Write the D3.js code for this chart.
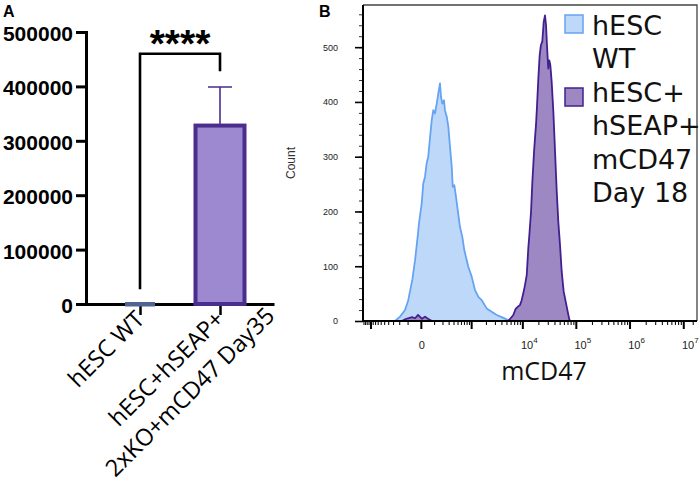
<!DOCTYPE html>
<html>
<head>
<meta charset="utf-8">
<title>hSEAP / mCD47</title>
<script src="https://cdn.jsdelivr.net/npm/d3@7"></script>
<style>
  body { margin: 0; background: #fff; }
</style>
</head>
<body>
<script>
// ---- panel A data ----
var groups = ["hESC WT", "hESC+hSEAP+\n2xKO+mCD47 Day35"];
var means = [0, 328000];
var upper = [0, 399000];
var yTicksA = [0, 100000, 200000, 300000, 400000, 500000];
var bracket = [27000, 460000, 428000];   // left leg end, bar, right leg end
var stars = "****";

// ---- panel B data (channel of 256, count) ----
var wtChannel = [24.5, 28.4, 32.2, 34.7, 36.0, 37.8, 39.9, 41.9, 42.9, 45.0, 46.2, 47.5, 48.8, 50.0,
  51.4, 52.7, 53.9, 55.2, 56.5, 57.7, 59.0, 59.8, 60.8, 62.1, 62.8, 64.2, 65.4, 66.7, 68.0, 68.8,
  70.0, 71.1, 72.6, 74.3, 76.1, 77.6, 79.5, 80.7, 83.3, 85.8, 88.4, 91.0, 94.8, 98.6, 102.5,
  106.3, 110.1, 114.0];
var wtCount = [0, 8, 20, 38, 54, 75, 111, 154, 178, 215, 251, 263, 288, 300,
  336, 367, 385, 379, 397, 415, 434, 409, 397, 403, 385, 373, 355, 318, 282, 245,
  248, 230, 203, 172, 154, 130, 111, 99, 81, 57, 44, 38, 23, 17, 11,
  7, 3, 0];
var tgChannel = [29.9, 32.2, 34.5, 37.6, 39.9, 42.2, 45.2, 47.5, 49.8, 52.9,
  111.4, 115.2, 117.0, 118.6, 120.3, 121.6, 122.9, 124.2, 125.5, 126.7, 127.5, 128.8, 129.8,
  131.1, 131.8, 132.6, 133.4, 134.4, 135.4, 136.4, 137.4, 138.5, 139.5, 140.3, 141.0, 142.0,
  142.8, 143.6, 144.6, 145.9, 147.2, 148.5, 149.7, 151.0, 152.3, 153.8, 155.4, 156.9, 158.2, 159.4];
var tgCount = [0, 3, 5, 7, 5, 11, 4, 8, 4, 0,
  0, 11, 22, 26, 29, 38, 51, 66, 84, 133, 157, 200, 254,
  309, 333, 358, 394, 443, 485, 504, 510, 546, 558, 540, 504, 461,
  476, 467, 437, 382, 309, 236, 181, 139, 90, 54, 35, 17, 2, 0];
var countTicks = [0, 100, 200, 300, 400, 500];
var majorTicksB = [-1000, 0, 1000, 1e4, 1e5, 1e6, 1e7];
var decades = [4, 5, 6, 7];
var legendLines = [["hESC", "WT"], ["hESC+", "hSEAP+", "mCD47", "Day 18"]];

var width = 700, height = 484;
var svg = d3.select("body").append("svg")
    .attr("width", width)
    .attr("height", height);

// ================= panel A =================
var yA = d3.scaleLinear().domain([0, 500000]).range([304, 32]);
var xA = d3.scalePoint().domain(groups).range([86, 274]).padding(0.675);
var barW = [26, 49];
var barFill = ["#5d6f9c", "#9d89cf"];
var barStroke = ["#4f6395", "#4b2d8e"];

var gA = svg.append("g");

var axA = gA.append("g")
    .attr("transform", "translate(86,0)")
    .call(d3.axisLeft(yA).tickValues(yTicksA).tickFormat(d3.format("d"))
        .tickSize(10).tickSizeOuter(0).tickPadding(3));
axA.select(".domain").attr("stroke-width", 3).attr("stroke-linecap", "square");
axA.selectAll(".tick line").attr("stroke-width", 3);
axA.selectAll("text")
    .attr("font-family", "Liberation Sans, Arial, sans-serif")
    .attr("font-weight", "bold")
    .attr("font-size", 21)
    .attr("dy", "0.4em")
    .attr("fill", "#000");

var axAx = gA.append("g")
    .attr("transform", "translate(0,304)")
    .call(d3.axisBottom(xA).tickSize(11).tickSizeOuter(0).tickFormat(""));
axAx.select(".domain").attr("stroke-width", 3);
axAx.selectAll(".tick line").attr("stroke-width", 2.5);

// bars
gA.selectAll(".bar")
    .data(groups)
    .enter()
    .append("rect")
    .attr("class", "bar")
    .attr("x", function(d, i) { return xA(d) - barW[i] / 2; })
    .attr("width", function(d, i) { return barW[i]; })
    .attr("y", function(d, i) { return yA(means[i]); })
    .attr("height", function(d, i) { return Math.max(yA(0) - yA(means[i]), 0.5); })
    .attr("fill", function(d, i) { return barFill[i]; })
    .attr("stroke", function(d, i) { return barStroke[i]; })
    .attr("stroke-width", 4);

// error bar (upper only)
var xb = xA(groups[1]);
gA.append("path")
    .attr("d", "M" + xb + "," + yA(means[1]) + "V" + yA(upper[1]) +
               "M" + (xb - 12) + "," + yA(upper[1]) + "H" + (xb + 12))
    .attr("fill", "none")
    .attr("stroke", "#4b2d8e")
    .attr("stroke-width", 1.6);

// significance bracket
var x1 = xA(groups[0]), x2 = xA(groups[1]);
gA.append("path")
    .attr("d", "M" + x1 + "," + yA(bracket[0]) + "V" + yA(bracket[1]) + "H" + x2 + "V" + yA(bracket[2]))
    .attr("fill", "none")
    .attr("stroke", "#000")
    .attr("stroke-width", 2.6);
gA.append("text")
    .attr("x", (x1 + x2) / 2)
    .attr("y", 57)
    .attr("text-anchor", "middle")
    .attr("font-family", "Liberation Sans, Arial, sans-serif")
    .attr("font-weight", "bold")
    .attr("font-size", 39)
    .text(stars);

// rotated category labels
groups.forEach(function(label) {
    var lines = label.split("\n");
    var g = gA.append("g")
        .attr("transform", "translate(" + xA(label) + ",315) rotate(-45)");
    var texts = g.selectAll("text")
        .data(lines)
        .enter()
        .append("text")
        .attr("font-family", "Open Sans, sans-serif")
        .attr("font-size", 23.5)
        .attr("fill", "#000")
        .attr("text-anchor", "middle")
        .attr("y", function(d, i) { return i * 33; })
        .attr("dy", "0.35em")
        .text(function(d) { return d; });
    var w1 = texts.node().getComputedTextLength();
    texts.attr("x", -w1 / 2);
});

gA.append("text")
    .attr("x", 3).attr("y", 17)
    .attr("font-family", "Liberation Sans, Arial, sans-serif")
    .attr("font-weight", "bold")
    .attr("font-size", 16)
    .text("A");

// ================= panel B =================
var bLeft = 363, bRight = 697, bTop = 5, bBottom = 321;
var xB = d3.scaleSymlog().constant(131).domain([-1430, 1.8e7]).range([bLeft, bRight]);
var chan = d3.scaleLinear().domain([0, 256]).range([bLeft, bRight]);
var yB = d3.scaleLinear().domain([0, 577]).range([bBottom, bTop]);

var gB = svg.append("g");

var area = d3.area()
    .x(function(d) { return chan(d[0]); })
    .y0(yB(0))
    .y1(function(d) { return yB(d[1]); });

var wt = wtChannel.map(function(c, i) { return [c, wtCount[i]]; });
var tg = tgChannel.map(function(c, i) { return [c, tgCount[i]]; });

gB.append("path")
    .datum(wt)
    .attr("d", area)
    .attr("fill", "#bed8fa")
    .attr("stroke", "#66a3f2")
    .attr("stroke-width", 1.8)
    .attr("stroke-linejoin", "round");
gB.append("path")
    .datum(tg)
    .attr("d", area)
    .attr("fill", "#9e88c3")
    .attr("stroke", "#42208f")
    .attr("stroke-width", 1.8)
    .attr("stroke-linejoin", "round");

// frame
gB.append("path")
    .attr("d", "M" + bLeft + "," + bTop + "H" + bRight + "V" + bBottom)
    .attr("fill", "none")
    .attr("stroke", "#444")
    .attr("stroke-width", 1.3);

// y axis
var minorY = d3.range(0, 577, 20);
var yMin = gB.append("g")
    .attr("transform", "translate(" + bLeft + ",0)")
    .call(d3.axisLeft(yB).tickValues(minorY).tickSize(4).tickSizeOuter(0).tickFormat(""));
yMin.select(".domain").remove();
yMin.selectAll(".tick line").attr("stroke", "#333").attr("stroke-width", 1);
var yMaj = gB.append("g")
    .attr("transform", "translate(" + bLeft + ",0)")
    .call(d3.axisLeft(yB).tickValues(countTicks).tickSize(8).tickSizeOuter(0).tickPadding(17));
yMaj.select(".domain").attr("stroke-width", 2).attr("d", "M0," + bTop + "V" + (bBottom + 1));
yMaj.selectAll(".tick line").attr("stroke-width", 1.6);
yMaj.selectAll("text")
    .attr("font-family", "Liberation Sans, Arial, sans-serif")
    .attr("font-size", 9)
    .attr("fill", "#222");

// x axis
var minorX = d3.range(-1400, -1000, 100).concat(d3.range(-900, 0, 100), d3.range(100, 1000, 100));
[1e3, 1e4, 1e5, 1e6].forEach(function(p) {
    for (var m = 2; m <= 9; m++) minorX.push(m * p);
});
minorX.push(1.5e7);
var xMin = gB.append("g")
    .attr("transform", "translate(0," + bBottom + ")")
    .call(d3.axisBottom(xB).tickValues(minorX).tickSize(4).tickSizeOuter(0).tickFormat(""));
xMin.select(".domain").remove();
xMin.selectAll(".tick line").attr("stroke", "#111").attr("stroke-width", 1.1);
var xMaj = gB.append("g")
    .attr("transform", "translate(0," + bBottom + ")")
    .call(d3.axisBottom(xB).tickValues(majorTicksB).tickSize(8).tickSizeOuter(0).tickFormat(""));
xMaj.select(".domain").attr("stroke-width", 2).attr("d", "M" + (bLeft - 1) + ",0H" + bRight);
xMaj.selectAll(".tick line").attr("stroke-width", 2);

gB.append("text")
    .attr("x", xB(0) + 1).attr("y", 349)
    .attr("text-anchor", "middle")
    .attr("font-family", "Liberation Sans, Arial, sans-serif")
    .attr("font-size", 11)
    .attr("fill", "#222")
    .text("0");
var dl = gB.selectAll(".dec")
    .data(decades)
    .enter()
    .append("text")
    .attr("class", "dec")
    .attr("x", function(d) { return xB(Math.pow(10, d)) + 7; })
    .attr("y", 349)
    .attr("text-anchor", "middle")
    .attr("font-family", "Liberation Sans, Arial, sans-serif")
    .attr("font-size", 11)
    .attr("fill", "#222");
dl.append("tspan").text("10");
dl.append("tspan").attr("font-size", 8).attr("dy", -6).text(function(d) { return d; });

gB.append("text")
    .attr("x", 544).attr("y", 380)
    .attr("text-anchor", "middle")
    .attr("font-family", "Open Sans, sans-serif")
    .attr("font-size", 25)
    .attr("fill", "#111")
    .text("mCD47");

gB.append("text")
    .attr("transform", "translate(291,163) rotate(-90)")
    .attr("text-anchor", "middle")
    .attr("dy", "0.35em")
    .attr("font-family", "Liberation Sans, Arial, sans-serif")
    .attr("font-size", 12)
    .attr("fill", "#333")
    .text("Count");

// legend
var legFill = ["#bed8fa", "#9e88c3"];
var legStroke = ["#66a3f2", "#42208f"];
var boxY = [15, 88];
var line = 0;
legendLines.forEach(function(lines, k) {
    gB.append("rect")
        .attr("x", 565).attr("y", boxY[k])
        .attr("width", 18).attr("height", 18)
        .attr("fill", legFill[k])
        .attr("stroke", legStroke[k])
        .attr("stroke-width", 1.5);
    lines.forEach(function(t) {
        gB.append("text")
            .attr("x", 592).attr("y", 35 + line * 33.4)
            .attr("font-family", "DejaVu Sans, sans-serif")
            .attr("font-size", 27)
            .attr("fill", "#111")
            .text(t);
        line++;
    });
});

gB.append("text")
    .attr("x", 319).attr("y", 17)
    .attr("font-family", "Liberation Sans, Arial, sans-serif")
    .attr("font-weight", "bold")
    .attr("font-size", 16)
    .text("B");
</script>
</body>
</html>
